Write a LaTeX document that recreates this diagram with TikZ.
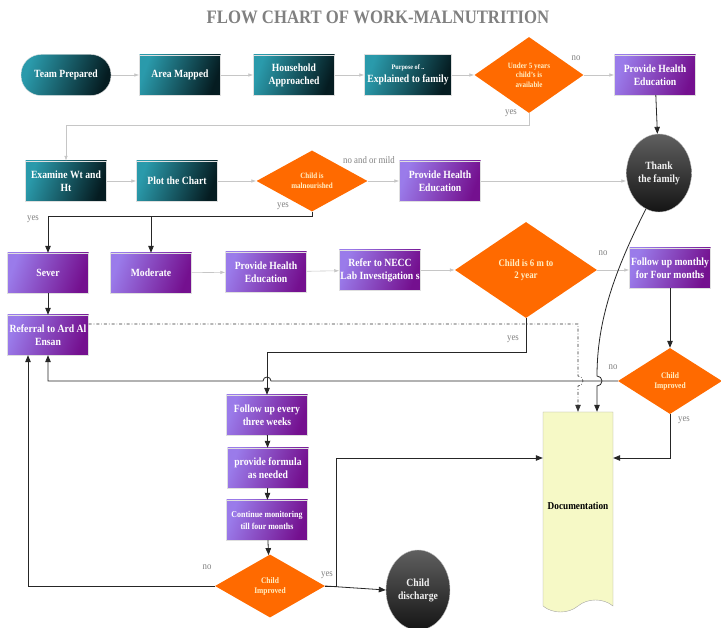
\documentclass[tikz,border=0pt]{standalone}
\usepackage{fontspec}
\setmainfont{Liberation Serif}[FakeStretch=0.88]
\usetikzlibrary{shapes.geometric, shapes.symbols, arrows.meta, positioning, calc}

\definecolor{tealL}{HTML}{2A9AAB}
\definecolor{tealD}{HTML}{051C21}
\definecolor{purpL}{HTML}{9A7BEA}
\definecolor{purpD}{HTML}{74108F}
\definecolor{orng}{HTML}{FF6A00}
\definecolor{dectext}{HTML}{FFEFC4}
\definecolor{docfill}{HTML}{F6F9C6}
\definecolor{labgray}{HTML}{808080}

\tikzset{
  tealbox/.style = {rectangle, draw=gray!25, top color=tealL, bottom color=tealD, shading angle=70, minimum height=40pt, minimum width=81pt, text=white, align=center, inner sep=1pt, font=\bfseries\fontsize{11}{13}\selectfont},
  purplebox/.style = {rectangle, draw=gray!25, top color=purpL, bottom color=purpD, shading angle=70, minimum height=40pt, minimum width=81pt, text=white, align=center, inner sep=1pt, font=\bfseries\fontsize{11}{13}\selectfont},
  decision/.style = {diamond, fill=orng, draw=none, text=dectext, align=center, inner sep=0pt, font=\bfseries\fontsize{8}{9.5}\selectfont},
  endnode/.style = {ellipse, draw=gray!50, top color=gray!75!black, bottom color=black!92, text=gray!10, align=center, inner sep=0pt, font=\bfseries\fontsize{11}{13}\selectfont},
  docnode/.style = {tape, tape bend top=none, tape bend bottom=in and out, tape bend height=12pt, draw=gray!70, fill=docfill, minimum width=70pt, minimum height=200pt, font=\bfseries\fontsize{10.5}{12}\selectfont},
  yesno/.style = {text=labgray, font=\fontsize{10}{10}\selectfont, inner sep=0pt},
  grayarrow/.style = {draw=gray!45, line width=0.6pt, -{Latex[length=5pt,width=3.5pt]}},
  blackarrow/.style = {draw=black!85, line width=0.8pt, -{Triangle[length=7pt,width=5.5pt]}}
}

\begin{document}
\begin{tikzpicture}[x=1pt, y=-1pt]
    \useasboundingbox (0,0) rectangle (721,628);

    % Title
    \node[text=labgray, font=\bfseries\fontsize{19}{19}\selectfont] (title) at (378,17) {FLOW CHART OF WORK-MALNUTRITION};

    % First row
    \node[tealbox, rounded corners=20pt, minimum width=90pt, minimum height=41pt] (team) at (66,75) {Team Prepared};
    \node[tealbox] (area) at (180,75) {Area Mapped};
    \node[tealbox] (house) at (294,75) {Household\\Approached};
    \node[tealbox, minimum width=87pt, minimum height=41pt] (purpose) at (408,75) {{\fontsize{7}{8}\selectfont Purpose of ..}\\Explained to family};
    \node[decision, minimum width=109pt, minimum height=76pt] (under5) at (529,75) {Under 5 years\\child's is\\available};
    \node[purplebox] (health1) at (655,75) {Provide Health\\Education};
    \node[endnode, minimum width=65pt, minimum height=78pt] (thank) at (659,173) {Thank\\the family};

    % Second row
    \node[tealbox] (examine) at (66,181) {Examine Wt and\\Ht};
    \node[tealbox] (plot) at (177,181) {Plot the Chart};
    \node[decision, minimum width=111pt, minimum height=61pt] (malnour) at (312,181) {Child is\\malnourished};
    \node[purplebox] (health2) at (440,181) {Provide Health\\Education};

    % Third row
    \node[purplebox] (sever) at (48,273) {Sever};
    \node[purplebox] (moderate) at (151,273) {Moderate};
    \node[purplebox] (health3) at (266,272) {Provide Health\\Education};
    \node[purplebox] (necc) at (380,270) {Refer to NECC\\Lab Investigation s};
    \node[decision, minimum width=142pt, minimum height=96pt, font=\bfseries\fontsize{10}{12}\selectfont] (agecheck) at (526,270) {Child is 6 m to\\2 year};
    \node[purplebox] (monthly) at (670,268) {Follow up monthly\\for Four months};
    \node[decision, minimum width=104pt, minimum height=66pt, font=\bfseries\fontsize{8.5}{10}\selectfont] (improved1) at (670,381) {Child\\Improved};
    \node[purplebox] (referral) at (48,335) {Referral to Ard Al\\Ensan};

    % Follow up column
    \node[purplebox] (weeks) at (267,415) {Follow up every\\three weeks};
    \node[purplebox] (formula) at (268,468) {provide formula\\as needed};
    \node[purplebox, font=\bfseries\fontsize{9}{12}\selectfont] (monitor) at (267,520) {Continue monitoring\\till four months};
    \node[decision, minimum width=110pt, minimum height=63pt, font=\bfseries\fontsize{8.5}{10}\selectfont] (improved2) at (270,586) {Child\\Improved};
    \node[endnode, minimum width=64pt, minimum height=80pt] (discharge) at (418,590) {Child\\discharge};
    \node[docnode] (doc) at (578,506) {Documentation};

    % Arrows first row
    \draw[grayarrow] (team) -- (area);
    \draw[grayarrow] (area) -- (house);
    \draw[grayarrow] (house) -- (purpose);
    \draw[grayarrow] (purpose) -- (under5);
    \draw[grayarrow] (under5) -- (health1);
    \draw[blackarrow] (health1) -- (thank);
    \draw[grayarrow] (under5.south) -- ++(0,12) -| (examine.north);
    \node[yesno] at (576,58) {no};
    \node[yesno] at (511,113) {yes};

    % Arrows second row
    \draw[grayarrow] (examine) -- (plot);
    \draw[grayarrow] (plot) -- (malnour);
    \draw[grayarrow] (malnour) -- (health2);
    \draw[grayarrow] (health2.east) -- (health2.east -| thank.west);
    \draw[blackarrow] (malnour.south) -- ++(0,5) coordinate (yesrow) -| (sever.north);
    \draw[blackarrow] (yesrow -| moderate.north) -- (moderate.north);
    \node[yesno] at (369,160) {no and or mild};
    \node[yesno] at (283,206) {yes};
    \node[yesno] at (33,219) {yes};

    % Arrows third row
    \draw[grayarrow] (moderate) -- (health3);
    \draw[grayarrow] (health3) -- (necc);
    \draw[grayarrow] (necc) -- (agecheck);
    \draw[grayarrow] (agecheck.east) -- (agecheck.east -| monthly.west);
    \draw[blackarrow] (monthly) -- (improved1);
    \draw[blackarrow] (sever) -- (referral);
    \draw[blackarrow] (agecheck.south) -- ++(0,34) -| (weeks.north);
    \draw[blackarrow] (improved1.west) -- ([xshift=4pt]weeks.north |- improved1.west)
        arc[start angle=0, end angle=180, radius=4pt] -- (referral.south |- improved1.west) -- (referral.south);
    \draw[blackarrow] (improved1.south) |- ([yshift=48pt]doc.east);
    \draw[draw=black!80, line width=0.6pt, dash dot, -{Triangle[length=7pt,width=5.5pt]}]
        ([yshift=11pt]referral.east) -| ([yshift=5pt]doc.north |- improved1.west)
        arc[start angle=90, end angle=-90, radius=5pt] -- (doc.north);
    \draw[blackarrow] (thank.-110) .. controls (615,270) and (597,320) .. ([xshift=19pt, yshift=5pt]doc.north |- improved1.west)
        arc[start angle=90, end angle=-90, radius=5pt] -- ([xshift=19pt]doc.north);
    \node[yesno] at (603,253) {no};
    \node[yesno] at (513,339) {yes};
    \node[yesno] at (613,367) {no};
    \node[yesno] at (684,420) {yes};

    % Arrows follow up column
    \draw[blackarrow] (weeks) -- (formula);
    \draw[blackarrow] (formula) -- (monitor);
    \draw[blackarrow] (monitor) -- (improved2);
    \draw[blackarrow] (improved2.east) -- (discharge.west);
    \draw[blackarrow] (improved2.east) -- ++(11,0) |- ([yshift=48pt]doc.west);
    \draw[blackarrow] (improved2.west) -| ([xshift=-20pt]referral.south);
    \node[yesno] at (207,567) {no};
    \node[yesno] at (327,575) {yes};

\end{tikzpicture}
\end{document}
